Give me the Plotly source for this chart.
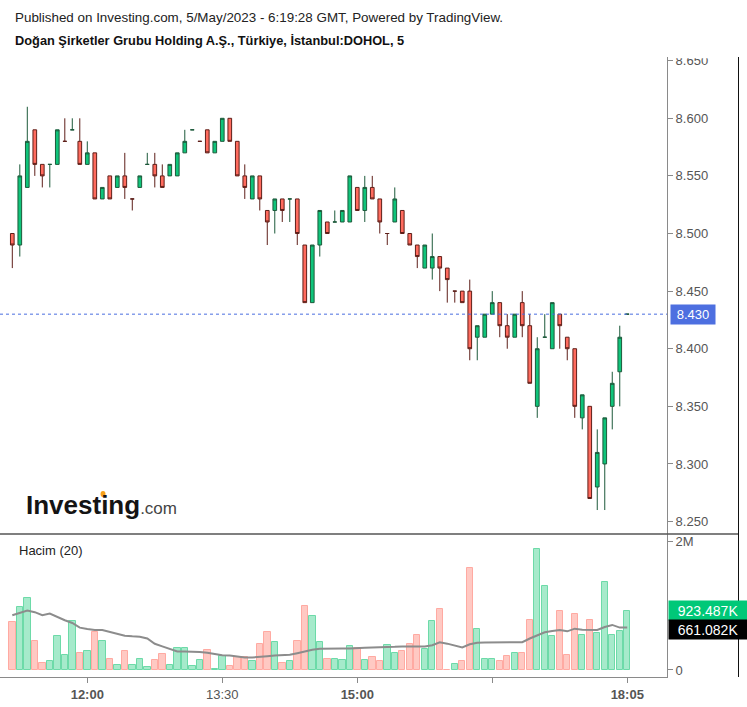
import plotly.graph_objects as go

# ---------------- data ----------------
opens = [8.50, 8.49, 8.54, 8.59, 8.56, 8.56, 8.56, 8.58, 8.59, 8.58,
         8.56, 8.57, 8.53, 8.55, 8.54, 8.55, 8.53, 8.54, 8.56, 8.56,
         8.55, 8.55, 8.55, 8.57, 8.59, 8.58, 8.59, 8.57, 8.58, 8.60,
         8.58, 8.55, 8.53, 8.55, 8.52, 8.52, 8.53, 8.53, 8.53, 8.49,
         8.44, 8.49, 8.51, 8.51, 8.51, 8.51, 8.54, 8.52, 8.54, 8.53,
         8.50, 8.51, 8.52, 8.50, 8.49, 8.47, 8.47, 8.48, 8.47, 8.45,
         8.45, 8.45, 8.41, 8.41, 8.43, 8.44, 8.42, 8.41, 8.44, 8.42,
         8.35, 8.41, 8.40, 8.43, 8.41, 8.40, 8.34, 8.35, 8.28, 8.30,
         8.35, 8.38, 8.43]
highs = [8.50, 8.56, 8.61, 8.59, 8.56, 8.56, 8.59, 8.60, 8.60, 8.60,
         8.58, 8.57, 8.54, 8.55, 8.55, 8.57, 8.53, 8.55, 8.57, 8.57,
         8.56, 8.56, 8.57, 8.59, 8.59, 8.58, 8.59, 8.58, 8.60, 8.60,
         8.58, 8.56, 8.55, 8.55, 8.52, 8.53, 8.53, 8.53, 8.53, 8.49,
         8.49, 8.52, 8.51, 8.52, 8.52, 8.55, 8.54, 8.55, 8.55, 8.53,
         8.50, 8.54, 8.52, 8.50, 8.49, 8.49, 8.50, 8.48, 8.47, 8.45,
         8.45, 8.46, 8.42, 8.43, 8.45, 8.44, 8.43, 8.43, 8.45, 8.43,
         8.41, 8.43, 8.44, 8.43, 8.41, 8.40, 8.36, 8.35, 8.33, 8.34,
         8.38, 8.42, 8.43]
lows = [8.47, 8.48, 8.54, 8.55, 8.54, 8.54, 8.56, 8.58, 8.59, 8.56,
        8.56, 8.53, 8.53, 8.53, 8.54, 8.53, 8.52, 8.54, 8.56, 8.54,
        8.54, 8.55, 8.55, 8.57, 8.59, 8.58, 8.57, 8.57, 8.58, 8.58,
        8.55, 8.53, 8.53, 8.52, 8.49, 8.50, 8.51, 8.51, 8.49, 8.44,
        8.44, 8.48, 8.50, 8.51, 8.51, 8.51, 8.52, 8.51, 8.53, 8.50,
        8.49, 8.51, 8.50, 8.49, 8.47, 8.47, 8.46, 8.45, 8.44, 8.44,
        8.44, 8.39, 8.39, 8.41, 8.43, 8.41, 8.40, 8.41, 8.41, 8.37,
        8.34, 8.41, 8.40, 8.40, 8.39, 8.34, 8.33, 8.27, 8.26, 8.26,
        8.33, 8.35, 8.43]
closes = [8.49, 8.55, 8.58, 8.56, 8.55, 8.56, 8.59, 8.58, 8.59, 8.56,
          8.57, 8.53, 8.54, 8.53, 8.55, 8.54, 8.53, 8.55, 8.56, 8.55,
          8.54, 8.56, 8.57, 8.58, 8.59, 8.58, 8.57, 8.58, 8.60, 8.58,
          8.55, 8.54, 8.55, 8.53, 8.51, 8.53, 8.52, 8.53, 8.50, 8.44,
          8.49, 8.52, 8.50, 8.51, 8.52, 8.55, 8.52, 8.54, 8.53, 8.51,
          8.50, 8.53, 8.50, 8.49, 8.48, 8.49, 8.48, 8.47, 8.46, 8.45,
          8.44, 8.40, 8.42, 8.43, 8.44, 8.42, 8.41, 8.43, 8.42, 8.37,
          8.40, 8.41, 8.44, 8.42, 8.40, 8.35, 8.36, 8.27, 8.31, 8.34,
          8.37, 8.41, 8.43]
volume_m = [0.749, 0.979, 1.115, 0.456, 0.115, 0.136, 0.529, 0.230, 0.770, 0.272,
            0.299, 0.587, 0.456, 0.178, 0.079, 0.299, 0.079, 0.178, 0.047, 0.157,
            0.251, 0.079, 0.335, 0.335, 0.063, 0.157, 0.314, 0.021, 0.220, 0.055,
            0.199, 0.199, 0.136, 0.408, 0.587, 0.429, 0.115, 0.136, 0.456, 1.005,
            0.843, 0.435, 0.178, 0.178, 0.157, 0.372, 0.335, 0.157, 0.199, 0.136,
            0.388, 0.272, 0.293, 0.408, 0.545, 0.330, 0.765, 0.943, 0.005, 0.094,
            0.136, 1.587, 0.644, 0.173, 0.173, 0.136, 0.215, 0.272, 0.272, 0.786,
            1.885, 1.314, 0.529, 0.927, 0.236, 0.880, 0.545, 0.786, 0.581, 1.372,
            0.545, 0.613, 0.923]
vol_ma_m = [0.854, 0.890, 0.927, 0.901, 0.854, 0.880, 0.822, 0.775, 0.733, 0.660,
            0.639, 0.623, 0.623, 0.592, 0.560, 0.534, 0.524, 0.518, 0.492, 0.408,
            0.367, 0.325, 0.288, 0.288, 0.288, 0.278, 0.267, 0.246, 0.230, 0.225,
            0.209, 0.194, 0.194, 0.199, 0.215, 0.225, 0.230, 0.236, 0.262, 0.293,
            0.314, 0.330, 0.335, 0.335, 0.335, 0.335, 0.335, 0.346, 0.351, 0.351,
            0.356, 0.361, 0.367, 0.367, 0.367, 0.367, 0.385, 0.430, 0.410, 0.380,
            0.350, 0.400, 0.425, 0.429, 0.429, 0.429, 0.429, 0.429, 0.432, 0.490,
            0.534, 0.587, 0.607, 0.623, 0.602, 0.644, 0.628, 0.623, 0.623, 0.670,
            0.702, 0.660, 0.661]
tick_idx = [10, 28, 46, 64, 82]
tick_labels = ["<b>12:00</b>", "13:30", "<b>15:00</b>", "", "<b>18:05</b>"]
price_ticks = [8.25, 8.30, 8.35, 8.40, 8.45, 8.50, 8.55, 8.60, 8.65]
last_price = 8.43
last_volume_label = "923.487K"
last_ma_label = "661.082K"

x = list(range(len(opens)))
volume = [v * 1e6 for v in volume_m]
vol_ma = [v * 1e6 for v in vol_ma_m]
up = [c >= o for o, c in zip(opens, closes)]

# ---------------- geometry helpers ----------------
W, H = 747, 707
ML, MR, MT, MB = 0, 80, 57, 30
PW, PH = W - ML - MR, H - MT - MB


def px(xp):
    return (xp - ML) / PW


def py(yp):
    return (H - MB - yp) / PH


split = py(534)
FONT = "Liberation Sans, Arial, sans-serif"

fig = go.Figure()

fig.add_trace(go.Bar(
    x=x, y=volume, xaxis="x", yaxis="y",
    marker=dict(color=["#a6eacb" if u else "#ffc9c3" for u in up],
                line=dict(color=["#6ddaa8" if u else "#ffaaa2" for u in up], width=1)),
    width=0.86, hoverinfo="skip", showlegend=False))

fig.add_trace(go.Scatter(
    x=x, y=vol_ma, xaxis="x", yaxis="y", mode="lines",
    line=dict(color="#8c8c8c", width=2), hoverinfo="skip", showlegend=False))

fig.add_trace(go.Candlestick(
    x=x, open=opens, high=highs, low=lows, close=closes,
    xaxis="x", yaxis="y2",
    increasing=dict(fillcolor="#0fc47a", line=dict(color="#1d5a3b", width=1)),
    decreasing=dict(fillcolor="#ff6b5e", line=dict(color="#5e1f19", width=1)),
    whiskerwidth=0, hoverinfo="skip", showlegend=False))

axis_common = dict(showgrid=False, zeroline=False, showline=True,
                   linecolor="#8a8a8a", linewidth=1, ticks="outside",
                   ticklen=5, tickcolor="#8a8a8a",
                   tickfont=dict(family=FONT, size=13, color="#555"))

fig.update_layout(
    width=W, height=H,
    margin=dict(l=ML, r=MR, t=MT, b=MB),
    paper_bgcolor="white", plot_bgcolor="white",
    font=dict(family=FONT),
    bargap=0,
    xaxis=dict(domain=[0, 1], anchor="y", range=[-1.64, 87.3],
               tickmode="array", tickvals=tick_idx, ticktext=tick_labels,
               rangeslider=dict(visible=False), **axis_common),
    yaxis=dict(domain=[0, split], anchor="x", side="right",
               range=[-0.11e6, 2.12e6], tickmode="array",
               tickvals=[0, 2e6], ticktext=["0", "2M"], **axis_common),
    yaxis2=dict(domain=[split, 1], anchor="x", side="right",
                range=[8.2392, 8.6532], tickmode="array",
                tickvals=price_ticks, tickformat=".3f", **axis_common),
)

shapes = [
    # last price dotted line
    dict(type="line", xref="paper", yref="y2", x0=0, x1=1,
         y0=last_price, y1=last_price,
         line=dict(color="#4a6ee0", width=1, dash="dot")),
    # pane divider
    dict(type="line", xref="paper", yref="paper", x0=0, x1=px(739),
         y0=split, y1=split, line=dict(color="#555", width=1.5)),
    # right border
    dict(type="line", xref="paper", yref="paper", x0=px(738.5), x1=px(738.5),
         y0=py(57), y1=py(677), line=dict(color="#111", width=1)),
    # clip the top price label
    dict(type="rect", xref="paper", yref="paper", x0=px(668), x1=px(736),
         y0=py(58.3), y1=py(47), fillcolor="white", line=dict(width=0),
         layer="above"),
    # orange dot of the logo's "i"
    dict(type="circle", xref="paper", yref="paper", x0=px(100.5), x1=px(105.5),
         y0=py(497), y1=py(491), fillcolor="#f7a21b", line=dict(width=0),
         layer="above"),
]
fig.update_layout(shapes=shapes)

annotations = [
    dict(text="Published on Investing.com, 5/May/2023 - 6:19:28 GMT, Powered by TradingView.",
         xref="paper", yref="paper", x=px(13), y=py(17), xanchor="left", yanchor="middle",
         showarrow=False, font=dict(family=FONT, size=13.4, color="#222")),
    dict(text="<b>Doğan Şirketler Grubu Holding A.Ş., Türkiye, İstanbul:DOHOL, 5</b>",
         xref="paper", yref="paper", x=px(13), y=py(40), xanchor="left", yanchor="middle",
         showarrow=False, font=dict(family=FONT, size=12.8, color="#111")),
    dict(text="Hacim (20)", xref="paper", yref="paper", x=px(17), y=py(550),
         xanchor="left", yanchor="middle", showarrow=False,
         font=dict(family=FONT, size=13, color="#222")),
    dict(text="<b>Investing</b><span style='font-size:17px;color:#444'>.com</span>",
         xref="paper", yref="paper", x=px(24), y=py(505), xanchor="left", yanchor="middle",
         showarrow=False, font=dict(family=FONT, size=26, color="#141414")),
    dict(text=f"{last_price:.3f}", xref="paper", yref="y2", x=px(670), y=last_price,
         xanchor="left", yanchor="middle", showarrow=False, bgcolor="#4d6fe0",
         width=42, height=17, borderpad=1, align="center",
         font=dict(family=FONT, size=13, color="white")),
    dict(text="&nbsp;&nbsp;" + last_volume_label, xref="paper", yref="paper", x=px(668), y=py(610),
         xanchor="left", yanchor="middle", showarrow=False, bgcolor="#00c878",
         width=78, height=17, borderpad=1, align="left",
         font=dict(family=FONT, size=14, color="white")),
    dict(text="&nbsp;&nbsp;" + last_ma_label, xref="paper", yref="paper", x=px(668), y=py(629),
         xanchor="left", yanchor="middle", showarrow=False, bgcolor="#000000",
         width=78, height=17, borderpad=1, align="left",
         font=dict(family=FONT, size=14, color="white")),
]
fig.update_layout(annotations=annotations)

fig.write_html("out.html")
